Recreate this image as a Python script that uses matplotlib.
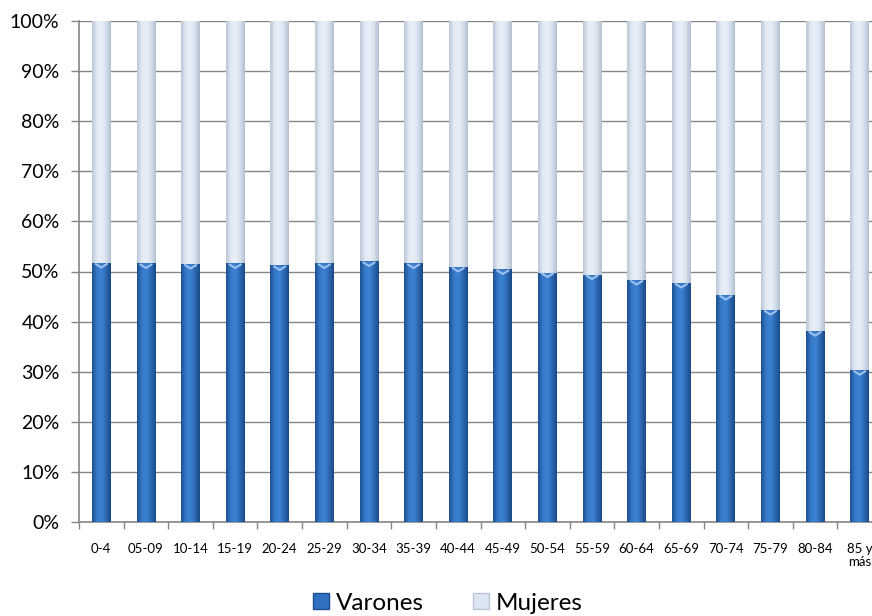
import numpy as np
import matplotlib.pyplot as plt
from matplotlib.colors import LinearSegmentedColormap
from matplotlib.patches import Patch

plt.rcParams['font.family'] = ['Lato', 'DejaVu Sans']

grupos = ["0-4", "05-09", "10-14", "15-19", "20-24", "25-29", "30-34", "35-39",
          "40-44", "45-49", "50-54", "55-59", "60-64", "65-69", "70-74", "75-79",
          "80-84", "85 y\nmás"]
varones = [51.7, 51.6, 51.5, 51.6, 51.2, 51.6, 52.0, 51.6, 50.9, 50.4,
           49.8, 49.4, 48.3, 47.7, 45.3, 42.3, 38.1, 30.3]
mujeres = [100 - v for v in varones]

azul = LinearSegmentedColormap.from_list("azul", ["#1d4f8f", "#3579c9", "#3d82d3", "#2c68b3", "#1b4a86"])
gris = LinearSegmentedColormap.from_list("gris", ["#b9c6d6", "#e2eaf4", "#e8eff8", "#d6e0ec", "#b3c0d1"])

fig = plt.figure(figsize=(8.72, 6.16), dpi=100)
ax = fig.add_axes([79 / 872, 1 - 522 / 616, 803 / 872, 501 / 616])

x = np.arange(len(grupos))
ancho = 0.42
grad = np.linspace(0, 1, 64).reshape(1, -1)


def barra_degradada(b, cmap):
    # rellena la barra con un degradado horizontal
    x0, y0 = b.get_x(), b.get_y()
    w, h = b.get_width(), b.get_height()
    im = ax.imshow(grad, cmap=cmap, aspect='auto', extent=[x0, x0 + w, y0, y0 + h],
                   zorder=b.get_zorder() + 0.1, interpolation='bicubic')
    im.set_clip_path(b)


barras_v = ax.bar(x, varones, ancho, color="#2f70c0", zorder=3)
barras_m = ax.bar(x, mujeres, ancho, bottom=varones, color="#dce6f2", zorder=3)
for b in barras_v:
    barra_degradada(b, azul)
for b in barras_m:
    barra_degradada(b, gris)

# brillo en el borde superior de los varones
for xi, v in zip(x, varones):
    ax.plot([xi - ancho * 0.3, xi, xi + ancho * 0.3], [v - 0.2, v - 0.9, v - 0.2],
            color="#9cc3ee", lw=1.5, zorder=5, solid_capstyle='round')

ax.set_xlim(-0.5, len(grupos) - 0.5)
ax.set_ylim(0, 100)
ax.set_yticks(np.arange(0, 101, 10))
ax.set_yticklabels([f"{v}%" for v in range(0, 101, 10)], fontsize=14)
ax.yaxis.grid(True, color="#868686", lw=1)
ax.set_axisbelow(True)

ax.set_xticks(x)
ax.set_xticklabels(grupos, fontsize=9.5, va='top', linespacing=1.1)
ax.tick_params(axis='x', length=0, pad=15)
ax.set_xticks(np.arange(-0.5, len(grupos), 1), minor=True)
ax.tick_params(axis='x', which='minor', length=5, color="#868686", width=1)
ax.tick_params(axis='y', length=6, color="#868686", width=1, pad=8)

for s in ["top", "right"]:
    ax.spines[s].set_visible(False)
for s in ["left", "bottom"]:
    ax.spines[s].set_color("#868686")
    ax.spines[s].set_linewidth(1.2)

manejadores = [Patch(facecolor="#2f70c0", edgecolor="#1d4f8f", label="Varones"),
               Patch(facecolor="#dce6f2", edgecolor="#b9c6d6", label="Mujeres")]
fig.legend(handles=manejadores, loc='center', bbox_to_anchor=(448 / 872, 1 - 603 / 616),
           ncol=2, frameon=False, fontsize=17.5, handlelength=0.65, handleheight=0.65,
           handletextpad=0.3, columnspacing=2.0, borderpad=0)

fig.savefig("out.png", dpi=100)
